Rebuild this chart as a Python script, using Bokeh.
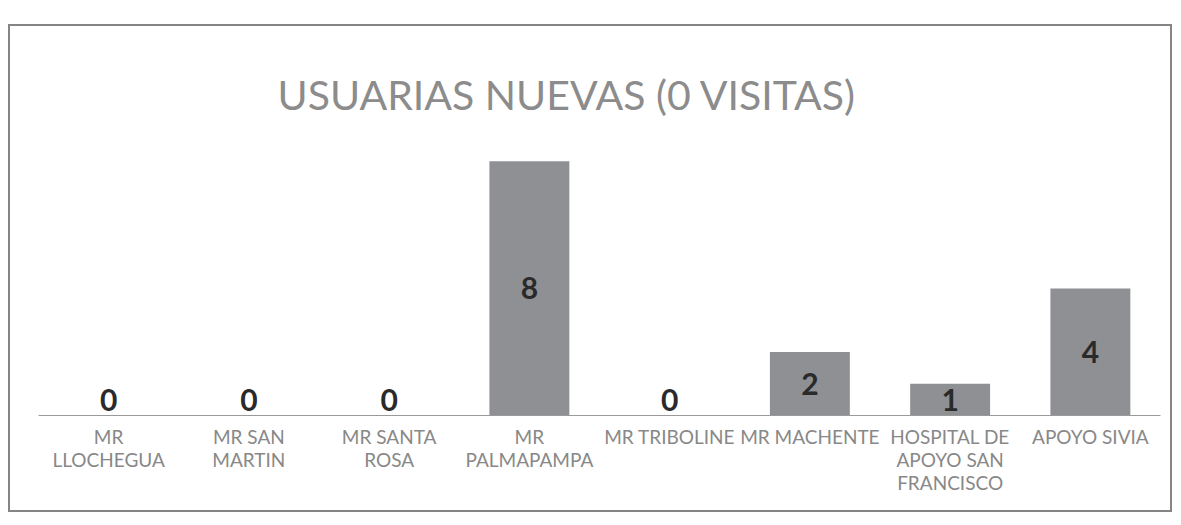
from bokeh.plotting import figure
from bokeh.models import ColumnDataSource, FactorRange, Range1d, Spacer
from bokeh.layouts import column, row
from bokeh.embed import file_html
from bokeh.resources import INLINE
from bokeh.core.properties import value

# --- data ---
categories = ["MR\nLLOCHEGUA", "MR SAN\nMARTIN", "MR SANTA\nROSA", "MR\nPALMAPAMPA",
              "MR TRIBOLINE", "MR MACHENTE", "HOSPITAL DE\nAPOYO SAN\nFRANCISCO", "APOYO SIVIA"]
values = [0, 0, 0, 8, 0, 2, 1, 4]
title_text = "USUARIAS NUEVAS (0 VISITAS)"

label_y = [max(v / 2, 0.5) for v in values]
src = ColumnDataSource(dict(cat=categories, val=values, ly=label_y, txt=[str(v) for v in values]))

FONT = "Lato"

p = figure(x_range=FactorRange(*categories), y_range=Range1d(0, 9),
           width=1164, height=488, output_backend="svg", toolbar_location=None,
           title=title_text,
           min_border_left=28, min_border_right=14, min_border_top=103, min_border_bottom=99)
p.styles = {"border": "2px solid #858585", "background-color": "white"}
p.border_fill_color = None
p.background_fill_color = None

p.vbar(x="cat", top="val", width=0.57, source=src, fill_color="#8f9094", line_color=None)
p.text(x="cat", y="ly", text="txt", source=src, text_align="center", text_baseline="middle",
       text_font=value(FONT), text_font_style="bold", text_font_size="30px", text_color="#2a2a2a")

p.title.text_font = FONT
p.title.text_font_size = "41px"
p.title.text_font_style = "normal"
p.title.text_color = "#8c8c8c"
p.title.align = "left"
p.title.offset = 239
p.title.standoff = 22

p.yaxis.visible = False
p.xgrid.visible = False
p.ygrid.visible = False
p.outline_line_color = None

ax = p.xaxis[0]
ax.axis_line_color = "#9a9a9a"
ax.axis_line_width = 1
ax.major_tick_line_color = None
ax.minor_tick_line_color = None
ax.major_label_text_font = FONT
ax.major_label_text_font_size = "19px"
ax.major_label_text_line_height = 1.0
ax.major_label_text_color = "#888888"
ax.major_label_standoff = 3
ax.major_label_orientation = "horizontal"

layout = row(Spacer(width=8), column(Spacer(height=24), p))
open("out.html", "w").write(file_html(layout, INLINE))
